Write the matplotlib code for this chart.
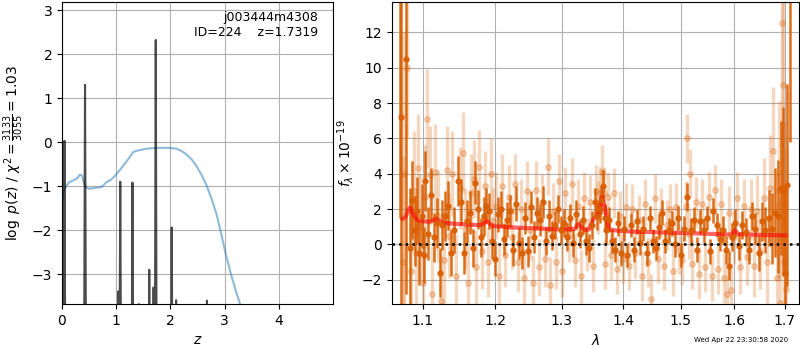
import numpy as np
import matplotlib
matplotlib.use("Agg")
import matplotlib.pyplot as plt
from matplotlib.ticker import FixedLocator, FixedFormatter, NullLocator

# ---- left panel: redshift fit ----
# chi2 curve (scaled)
chi_z = [0.00, 0.025, 0.07, 0.13, 0.21, 0.28, 0.33, 0.37, 0.40, 0.44,
         0.50, 0.61, 0.73, 0.82, 0.91, 1.01, 1.07, 1.16, 1.25, 1.31,
         1.37, 1.44, 1.56, 1.74, 1.99, 2.11, 2.20, 2.29, 2.39, 2.48,
         2.57, 2.66, 2.75, 2.85, 2.94, 3.03, 3.12, 3.21, 3.31]
chi_val = [-1.40, -1.14, -1.02, -0.91, -0.87, -0.82, -0.74, -0.76, -0.91, -1.02,
           -1.06, -1.04, -1.02, -0.91, -0.85, -0.72, -0.63, -0.49, -0.34, -0.23,
           -0.20, -0.18, -0.15, -0.13, -0.13, -0.15, -0.20, -0.27, -0.39, -0.54,
           -0.73, -0.96, -1.25, -1.63, -2.09, -2.59, -3.01, -3.39, -3.77]

# log p(z)
pz_z = [0.000, 0.027, 0.045, 0.063, 0.405, 0.425, 0.445, 1.028, 1.037, 1.046,
        1.058, 1.075, 1.092, 1.284, 1.300, 1.316, 1.412, 1.420, 1.428, 1.598,
        1.610, 1.622, 1.682, 1.690, 1.698, 1.712, 1.730, 1.748, 2.010, 2.025,
        2.040, 2.097, 2.105, 2.113, 2.667, 2.675, 2.683, 5.000]
pz_logp = [-6.0, -6.0, 0.03, -6.0, -6.0, 1.30, -6.0, -6.0, -3.39, -6.0,
           -6.0, -0.90, -6.0, -6.0, -0.92, -6.0, -6.0, -3.68, -6.0, -6.0,
           -2.90, -6.0, -6.0, -3.30, -6.0, -6.0, 2.32, -6.0, -6.0, -1.94,
           -6.0, -6.0, -3.59, -6.0, -6.0, -3.60, -6.0, -6.0]

# ---- right panel: spectrum ----
wave_bin = [1.0705, 1.0720, 1.0785, 1.0830, 1.0865, 1.0895, 1.0925, 1.0955, 1.0985, 1.1015,
            1.1036, 1.1075, 1.1110, 1.1150, 1.1190, 1.1230, 1.1260, 1.1300, 1.1340, 1.1380,
            1.1420, 1.1480, 1.1520, 1.1560, 1.1600, 1.1640, 1.1680, 1.1714, 1.1755, 1.1795,
            1.1835, 1.1875, 1.1915, 1.1955, 1.1995, 1.2040, 1.2085, 1.2130, 1.2175, 1.2220,
            1.2265, 1.2310, 1.2355, 1.2400, 1.2445, 1.2490, 1.2535, 1.2580, 1.2625, 1.2670,
            1.2715, 1.2760, 1.2805, 1.2850, 1.2895, 1.2940, 1.2985, 1.3035, 1.3085, 1.3135,
            1.3185, 1.3235, 1.3285, 1.3335, 1.3385, 1.3435, 1.3485, 1.3530, 1.3570, 1.3610,
            1.3635, 1.3660, 1.3690, 1.3720, 1.3765, 1.3815, 1.3865, 1.3915, 1.3965, 1.4015,
            1.4070, 1.4125, 1.4180, 1.4235, 1.4290, 1.4345, 1.4400, 1.4455, 1.4510, 1.4565,
            1.4620, 1.4675, 1.4730, 1.4785, 1.4840, 1.4895, 1.4950, 1.5005, 1.5065, 1.5125,
            1.5185, 1.5245, 1.5305, 1.5365, 1.5425, 1.5485, 1.5545, 1.5605, 1.5665, 1.5725,
            1.5785, 1.5845, 1.5905, 1.5965, 1.6025, 1.6090, 1.6155, 1.6220, 1.6285, 1.6350,
            1.6415, 1.6480, 1.6545, 1.6610, 1.6675, 1.6740, 1.6805, 1.6870, 1.6925, 1.6975,
            1.7000, 1.7049, 1.7117]
flux_bin = [16.0, 7.2, 10.5, -0.2, 2.5, 0.8, 1.9, -0.5, 1.6, -0.6,
            3.6, 0.6, 2.8, 0.4, 1.2, -1.6, 1.1, 1.6, 2.2, -0.5,
            0.8, 3.6, 2.4, -0.5, 1.3, 1.8, -0.2, 3.5, 2.0, 0.4,
            1.6, 2.2, 1.9, 0.2, -0.8, 1.7, 2.0, 0.3, 1.4, 1.9,
            -0.3, 2.3, 0.1, -0.5, 1.5, -0.4, 2.1, 0.4, 1.8, 1.4,
            2.4, 0.2, 1.6, 0.5, 1.1, 2.0, 0.8, 1.2, 0.4, 1.5,
            0.1, 1.7, 0.6, 1.4, 0.2, -0.2, 1.1, 2.4, 1.6, 2.0,
            2.5, 3.3, 1.5, 0.8, 1.4, 0.2, -0.3, 1.2, -0.5, 0.9,
            -0.6, 1.1, -0.3, 1.3, 0.1, 0.9, -0.5, 1.5, 0.2, -0.2,
            1.0, 1.8, 0.2, 0.8, 1.2, 0.0, 1.5, -0.6, 0.9, 2.7,
            0.8, 1.4, -0.3, 1.3, 0.8, 1.5, -0.4, 1.9, 1.1, 0.3,
            0.8, -0.3, -1.2, 0.4, 1.2, -0.1, 1.1, 0.7, -0.3, 1.6,
            0.9, -0.5, 1.3, 0.8, 1.5, 0.9, 1.8, 1.6, 3.2, 3.0,
            -1.6, 3.35, 17.0]
err_bin = [14.5, 11.0, 13.3, 3.4, 2.2, 2.0, 1.9, 1.8, 1.8, 1.6,
           1.7, 1.5, 1.5, 1.4, 1.4, 1.4, 1.4, 1.4, 1.4, 1.3,
           1.3, 1.4, 1.3, 1.2, 1.2, 1.2, 1.1, 1.2, 1.1, 1.1,
           1.1, 1.0, 1.0, 1.0, 1.0, 1.0, 1.0, 0.9, 1.0, 0.9,
           0.9, 1.0, 0.9, 0.9, 0.9, 0.9, 0.9, 0.9, 0.9, 0.9,
           0.9, 0.8, 0.9, 0.8, 0.8, 0.8, 0.8, 0.8, 0.8, 0.8,
           0.8, 0.8, 0.8, 0.8, 0.8, 0.8, 0.8, 0.8, 0.8, 0.8,
           0.8, 0.9, 0.8, 0.8, 0.7, 0.7, 0.7, 0.7, 0.7, 0.7,
           0.7, 0.7, 0.7, 0.7, 0.7, 0.7, 0.7, 0.7, 0.7, 0.7,
           0.7, 0.7, 0.7, 0.7, 0.7, 0.7, 0.7, 0.7, 0.7, 0.8,
           0.7, 0.7, 0.7, 0.7, 0.7, 0.7, 0.7, 0.7, 0.7, 0.7,
           0.8, 0.8, 0.8, 0.8, 0.8, 0.8, 0.8, 0.8, 0.8, 0.8,
           0.9, 1.0, 1.1, 1.3, 1.6, 2.0, 2.5, 3.2, 3.8, 4.8,
           5.0, 5.7, 11.2]

wave_raw = [1.0740, 1.0760, 1.0800, 1.0845, 1.0880, 1.0910, 1.0940, 1.0970, 1.1000, 1.1025,
            1.1061, 1.1093, 1.1130, 1.1170, 1.1210, 1.1245, 1.1280, 1.1320, 1.1360, 1.1400,
            1.1450, 1.1500, 1.1540, 1.1580, 1.1620, 1.1660, 1.1697, 1.1735, 1.1775, 1.1815,
            1.1855, 1.1895, 1.1935, 1.1975, 1.2018, 1.2062, 1.2108, 1.2152, 1.2198, 1.2242,
            1.2288, 1.2332, 1.2378, 1.2422, 1.2468, 1.2512, 1.2558, 1.2602, 1.2648, 1.2692,
            1.2738, 1.2782, 1.2828, 1.2872, 1.2918, 1.2962, 1.3010, 1.3060, 1.3110, 1.3160,
            1.3210, 1.3260, 1.3310, 1.3360, 1.3410, 1.3460, 1.3508, 1.3550, 1.3590, 1.3623,
            1.3648, 1.3675, 1.3705, 1.3742, 1.3790, 1.3840, 1.3890, 1.3940, 1.3990, 1.4042,
            1.4098, 1.4152, 1.4208, 1.4262, 1.4318, 1.4372, 1.4428, 1.4470, 1.4538, 1.4592,
            1.4648, 1.4702, 1.4758, 1.4812, 1.4868, 1.4922, 1.4978, 1.5035, 1.5095, 1.5123,
            1.5155, 1.5176, 1.5215, 1.5275, 1.5335, 1.5395, 1.5455, 1.5515, 1.5575, 1.5635,
            1.5695, 1.5755, 1.5815, 1.5870, 1.5900, 1.5935, 1.5995, 1.6057, 1.6122, 1.6188,
            1.6252, 1.6318, 1.6382, 1.6448, 1.6512, 1.6578, 1.6642, 1.6708, 1.6772, 1.6838,
            1.6880, 1.6910, 1.6944, 1.6960, 1.6990, 1.7020]
flux_raw = [-1.0, 4.0, 10.0, -1.5, 3.0, -0.5, 4.3, 1.0, -2.2, 2.7,
            7.1, 3.9, -2.8, 4.1, 1.6, -3.2, -0.9, 4.2, 0.5, 4.0,
            -1.8, 3.2, 5.2, 0.9, -2.2, 2.9, 3.7, -1.3, 4.4, -0.4,
            3.3, -1.0, 4.0, 1.3, 2.2, -1.8, 3.3, -0.6, 2.7, 0.4,
            3.4, -1.0, 2.0, -1.9, 3.0, 0.8, -2.2, 3.1, -1.3, 2.4,
            -0.8, 4.4, -2.3, 1.9, -1.0, 3.6, -1.5, 2.9, 0.5, 3.4,
            -0.9, 2.2, -1.8, 2.6, 0.0, 2.4, -1.2, 3.0, 2.1, 2.9,
            4.1, 2.9, -1.1, 2.7, -0.6, 2.9, -1.4, 1.6, -0.8, 2.1,
            -1.2, 2.0, -0.5, 1.4, -1.8, 2.3, -1.0, -3.1, 2.6, -0.8,
            1.8, -1.2, 1.1, 2.0, -1.5, 2.1, -0.3, -0.9, 2.2, 6.0,
            0.6, 4.0, -1.1, 2.4, -1.7, 2.3, -1.3, 2.7, -1.8, 3.1,
            -1.4, 2.3, -1.9, -2.8, 1.8, -2.6, 0.4, 2.6, -1.3, 2.2,
            -0.7, 2.0, -1.2, 1.9, -0.4, 2.6, -1.0, 3.2, 5.3, -1.9,
            3.1, -3.3, 12.5, 9.0, -1.0, -2.5]
err_raw = [6.0, 8.0, 4.0, 3.6, 3.4, 3.2, 3.1, 3.0, 2.9, 2.9,
           2.8, 2.8, 2.7, 2.7, 2.6, 2.6, 2.5, 2.5, 2.4, 2.4,
           2.4, 2.3, 2.3, 2.3, 2.2, 2.2, 2.2, 2.1, 2.1, 2.1,
           2.0, 2.0, 2.0, 1.9, 1.9, 1.9, 1.8, 1.8, 1.8, 1.8,
           1.7, 1.7, 1.7, 1.7, 1.7, 1.7, 1.6, 1.6, 1.6, 1.6,
           1.6, 1.6, 1.6, 1.6, 1.5, 1.5, 1.5, 1.5, 1.5, 1.5,
           1.5, 1.5, 1.5, 1.5, 1.5, 1.5, 1.5, 1.5, 1.5, 1.5,
           1.5, 1.5, 1.4, 1.4, 1.4, 1.4, 1.4, 1.4, 1.4, 1.4,
           1.4, 1.4, 1.4, 1.4, 1.4, 1.4, 1.4, 1.4, 1.4, 1.4,
           1.4, 1.4, 1.4, 1.4, 1.4, 1.4, 1.4, 1.4, 1.4, 1.4,
           1.4, 1.4, 1.4, 1.4, 1.4, 1.4, 1.4, 1.4, 1.4, 1.4,
           1.4, 1.4, 1.4, 1.5, 1.5, 1.5, 1.5, 1.5, 1.5, 1.5,
           1.6, 1.7, 1.8, 2.0, 2.1, 2.3, 2.6, 3.0, 3.6, 4.3,
           5.0, 6.0, 7.0, 8.0, 8.0, 8.0]

model_wave = [1.0738, 1.0777, 1.0810, 1.0835, 1.0870, 1.0920, 1.0966, 1.1097, 1.1140, 1.1173,
              1.1210, 1.1270, 1.1500, 1.1765, 1.1830, 1.1880, 1.1930, 1.1975, 1.2200, 1.2500,
              1.3000, 1.3200, 1.3263, 1.3300, 1.3370, 1.3440, 1.3500, 1.3592, 1.3651, 1.3700,
              1.3760, 1.3900, 1.4108, 1.5000, 1.5950, 1.6017, 1.6080, 1.6500, 1.7020]
model_flux = [1.45, 1.56, 1.95, 2.09, 1.75, 1.40, 1.32, 1.28, 1.35, 1.47,
              1.38, 1.22, 1.15, 1.09, 1.15, 1.32, 1.15, 1.04, 0.97, 0.92,
              0.85, 0.87, 1.15, 1.05, 0.81, 0.85, 1.38, 1.75, 2.70, 2.04,
              0.85, 0.78, 0.73, 0.65, 0.56, 0.81, 0.58, 0.54, 0.51]

wave_ticks = [1.1, 1.2, 1.3, 1.4, 1.5, 1.6, 1.7]

spec_color = '#d95f02'

fig = plt.figure(figsize=(8, 3.5), dpi=100)

# left: p(z)
ax1 = fig.add_axes([0.0775, 0.131, 0.3387, 0.863])
ax1.plot(chi_z, chi_val, color='tab:blue', alpha=0.5, lw=1.5)
ax1.plot(pz_z, pz_logp, color='k', alpha=0.7, lw=1.5)
ax1.set_xlim(0, 5.0)
ax1.set_ylim(-3.68, 3.18)
ax1.set_xticks([0, 1, 2, 3, 4])
ax1.set_yticks([-3, -2, -1, 0, 1, 2, 3])
ax1.grid(True)
ax1.set_xlabel(r'$z$')
ax1.set_ylabel(r'$\log\ p(z)$ / $\chi^2=\frac{3133}{3055}=1.03$')
ax1.text(0.945, 0.97, 'j003444m4308\nID=224    z=1.7319', ha='right', va='top',
         transform=ax1.transAxes, fontsize=9)

# right: spectrum
ax2 = fig.add_axes([0.4896, 0.131, 0.5095, 0.863])
ax2.errorbar(wave_raw, flux_raw, err_raw, color=spec_color, marker='o', ms=4,
             alpha=0.25, linestyle='none', elinewidth=2.4, capsize=0)
ax2.errorbar(wave_bin, flux_bin, err_bin, color=spec_color, marker='o', ms=3.5,
             alpha=0.9, linestyle='none', elinewidth=1.8, capsize=0)
ax2.plot(model_wave, model_flux, color='r', alpha=0.6, lw=3)
ax2.axhline(0, color='k', linestyle=':', lw=1.8, zorder=10)
ax2.set_xscale('log')
ax2.set_xlim(1.0597, 1.7304)
ax2.set_ylim(-3.38, 13.71)
ax2.xaxis.set_major_locator(FixedLocator(wave_ticks))
ax2.xaxis.set_major_formatter(FixedFormatter(['%.1f' % w for w in wave_ticks]))
ax2.xaxis.set_minor_locator(NullLocator())
ax2.set_yticks([-2, 0, 2, 4, 6, 8, 10, 12])
ax2.grid(True)
ax2.set_xlabel(r'$\lambda$')
ax2.set_ylabel(r'$f_\lambda\times10^{-19}$')

fig.text(0.985, 0.02, 'Wed Apr 22 23:30:58 2020', ha='right', va='bottom', fontsize=5)

fig.savefig('out.png', dpi=100)
